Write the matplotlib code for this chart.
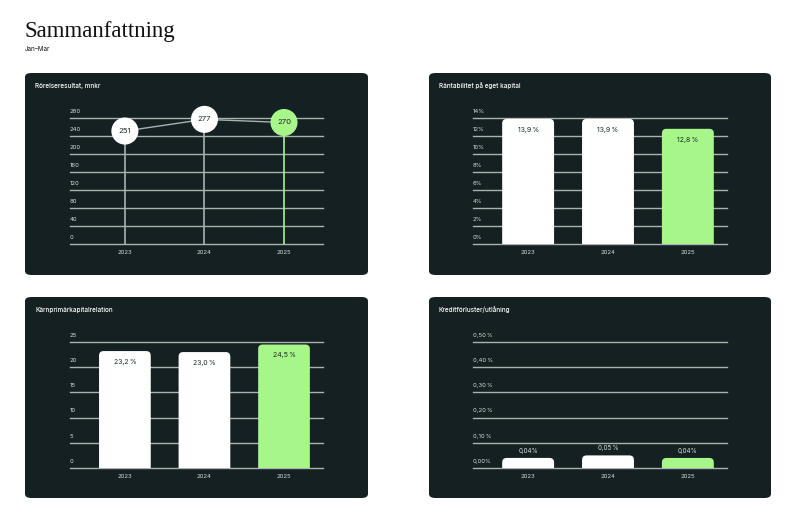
import matplotlib
matplotlib.use("Agg")
import matplotlib.pyplot as plt
from matplotlib.patches import FancyBboxPatch

# Data
years = ["2023", "2024", "2025"]
rorelse = [251, 277, 270]
rorelse_ticks = [0, 40, 80, 120, 160, 200, 240, 280]
ranta = [13.9, 13.9, 12.8]
ranta_labels = ["13,9\u2009%", "13,9\u2009%", "12,8\u2009%"]
ranta_ticks = [0, 2, 4, 6, 8, 10, 12, 14]
karn = [23.2, 23.0, 24.5]
karn_labels = ["23,2\u2009%", "23,0\u2009%", "24,5\u2009%"]
karn_ticks = [0, 5, 10, 15, 20, 25]
kredit = [0.04, 0.05, 0.04]
kredit_labels = ["0,04%", "0,05\u2009%", "0,04%"]
kredit_ticks = [0.0, 0.1, 0.2, 0.3, 0.4, 0.5]
kredit_ticklabels = ["0,00%", "0,10\u2009%", "0,20\u2009%", "0,30\u2009%",
                     "0,40\u2009%", "0,50\u2009%"]

BG = "#142021"
GREEN = "#a6f68a"
GRID = "#a9b1b1"
TXT = "#d8dede"
DARK = "#1c2626"
colors = ["white", "white", GREEN]

plt.rcParams["font.family"] = ["Inter", "DejaVu Sans"]

W, H = 800, 513
fig = plt.figure(figsize=(W / 100, H / 100), dpi=100)
fig.patch.set_facecolor("white")

fig.text(25 / W, 1 - 37 / H, "Sammanfattning", fontsize=16.5,
         family="Liberation Serif", color="#111111", va="baseline")
fig.text(25 / W, 1 - 49 / H, "Jan–Mar", fontsize=4.5, color="#111111", va="center")


def card(x0, y0, x1, y1, title):
    box = FancyBboxPatch((x0 / W, 1 - y1 / H), (x1 - x0) / W, (y1 - y0) / H,
                         boxstyle="round,pad=0,rounding_size=0.008",
                         transform=fig.transFigure, facecolor=BG,
                         edgecolor="none", zorder=-10)
    fig.patches.append(box)
    fig.text((x0 + 10) / W, 1 - (y0 + 13) / H, title, fontsize=4.6,
             color="white", va="center", weight="medium")


def make_axes(x0, y0, x1, y1, ticks, ticklabels):
    ax = fig.add_axes([x0 / W, 1 - y1 / H, (x1 - x0) / W, (y1 - y0) / H])
    ax.set_facecolor("none")
    ax.set_xlim(-0.69, 2.49)
    ax.set_ylim(ticks[0], ticks[-1])
    for s in ax.spines.values():
        s.set_visible(False)
    ax.set_yticks([])
    ax.set_xticks(range(len(years)))
    ax.set_xticklabels(years, fontsize=4.3, color=TXT)
    ax.tick_params(axis="x", length=0, pad=4)
    for t, lab in zip(ticks, ticklabels):
        ax.axhline(t, color=GRID, lw=1.0, zorder=1, clip_on=False)
        ax.annotate(lab, (0, t), xycoords=("axes fraction", "data"),
                    xytext=(0, 3), textcoords="offset points",
                    fontsize=4.3, color=TXT, ha="left", va="bottom")
    return ax


def rounded_bars(ax, values, labels, inside=True):
    bars = ax.bar(range(len(values)), values, width=0.65, alpha=0)
    fig.canvas.draw()
    bb = ax.get_window_extent()
    xl, yl = ax.get_xlim(), ax.get_ylim()
    ux = (xl[1] - xl[0]) / bb.width
    uy = (yl[1] - yl[0]) / bb.height
    r = 4.5 * ux
    for rect, c in zip(bars.patches, colors):
        p = FancyBboxPatch((rect.get_x(), -5 * uy), rect.get_width(),
                           rect.get_height() + 5 * uy,
                           boxstyle=f"round,pad=0,rounding_size={r}",
                           mutation_aspect=uy / ux, facecolor=c,
                           edgecolor="none", zorder=3)
        ax.add_patch(p)
    if inside:
        ax.bar_label(bars, labels=labels, padding=-10, fontsize=5,
                     color=DARK, zorder=4)
    else:
        ax.bar_label(bars, labels=labels, padding=3, fontsize=4.5,
                     color=TXT, zorder=4)


# Panel 1: Rörelseresultat
card(25, 73, 368, 275, "Rörelseresultat, mnkr")
ax1 = make_axes(70, 118, 323, 244, rorelse_ticks, [str(t) for t in rorelse_ticks])
xs = range(len(years))
ax1.vlines(xs, 0, rorelse, colors=[GRID, GRID, GREEN], lw=1.2, zorder=2)
ax1.plot(xs, rorelse, color=GRID, lw=1.0, zorder=2, clip_on=False)
ax1.scatter(xs, rorelse, s=380, c=colors, edgecolors="none", zorder=3, clip_on=False)
for x, v in zip(xs, rorelse):
    ax1.text(x, v, str(v), fontsize=5.5, color=DARK, ha="center", va="center", zorder=4)

# Panel 2: Räntabilitet
card(429, 73, 771, 275, "Räntabilitet på eget kapital")
ax2 = make_axes(473, 118, 727, 244, ranta_ticks, [f"{t}%" for t in ranta_ticks])
rounded_bars(ax2, ranta, ranta_labels)

# Panel 3: Kärnprimärkapitalrelation
card(25, 297, 368, 498, "Kärnprimärkapitalrelation")
ax3 = make_axes(70, 342, 323, 468, karn_ticks, [str(t) for t in karn_ticks])
rounded_bars(ax3, karn, karn_labels)

# Panel 4: Kreditförluster
card(429, 297, 771, 498, "Kreditförluster/utlåning")
ax4 = make_axes(473, 342, 727, 468, kredit_ticks, kredit_ticklabels)
rounded_bars(ax4, kredit, kredit_labels, inside=False)

fig.savefig("out.png", dpi=100, facecolor="white")
